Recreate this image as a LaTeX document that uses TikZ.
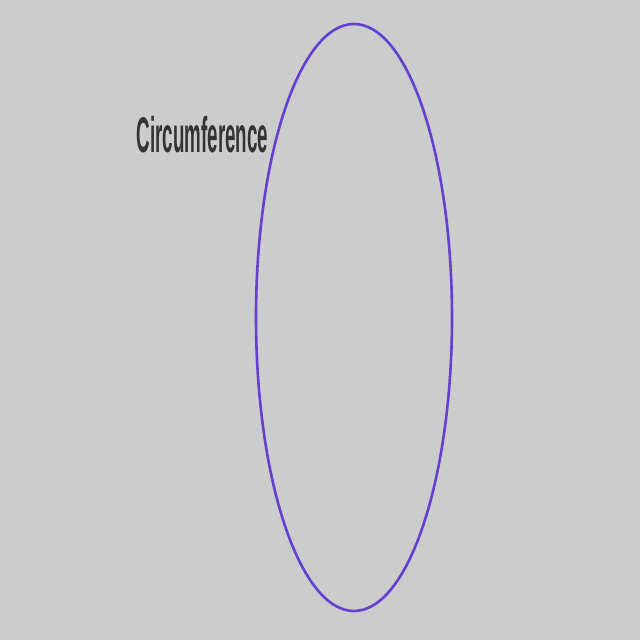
\documentclass[tikz,border=0pt]{standalone}
\usepackage{fontspec}
\setmainfont{Liberation Sans}
\usepackage{xcolor}
\definecolor{circbg}{RGB}{204,204,204}
\definecolor{circpurple}{RGB}{98,64,208}
\definecolor{circtext}{RGB}{51,51,51}
\usetikzlibrary{shapes.geometric}
\tikzset{
  circ outline/.style={draw=circpurple, ellipse, line width=2.6pt, inner sep=0pt},
  circ label/.style={text=circtext, font=\bfseries\fontsize{50}{50}\selectfont, inner sep=0pt, xscale=0.375},
}

\begin{document}
\begin{tikzpicture}[x=1pt, y=1pt]
  \fill[circbg] (0,0) rectangle (640,640);
  \useasboundingbox (0,0) rectangle (640,640);
  \node[circ outline, minimum width=196pt, minimum height=587pt] (rim) at (354,322.5) {};
  \node[circ label] (name) at (202.5,505) {Circumference};
\end{tikzpicture}
\end{document}
